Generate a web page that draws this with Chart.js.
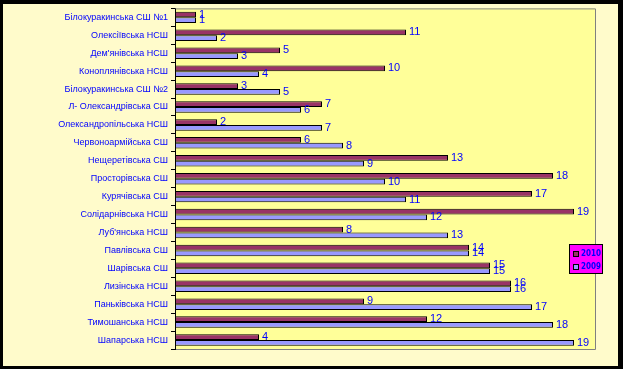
<!DOCTYPE html>
<html><head><meta charset="utf-8">
<script src="https://cdn.jsdelivr.net/npm/chart.js@4/dist/chart.umd.min.js"></script>
<style>html,body{margin:0;padding:0;background:#000;}#wrap{width:623px;height:369px;position:relative;}</style>
</head><body><div id="wrap"><canvas id="c" width="623" height="369"></canvas></div>
<script>
const categories = ["Білокуракинська СШ №1","Олексіївська НСШ","Дем'янівська НСШ","Коноплянівська НСШ","Білокуракинська СШ №2","Л- Олександрівська СШ","Олександропільська НСШ","Червоноармійська СШ","Нещеретівська СШ","Просторівська СШ","Курячівська СШ","Солідарнівська НСШ","Луб'янська НСШ","Павлівська СШ","Шарівська СШ","Лизінська НСШ","Паньківська НСШ","Тимошанська НСШ","Шапарська НСШ"];
const series2010 = [1,11,5,10,3,7,2,6,13,18,17,19,8,14,15,16,9,12,4];
const series2009 = [1,2,3,4,5,6,7,8,9,10,11,12,13,14,15,16,17,18,19];
const seriesNames = ["2010","2009"];

const bgPlugin = {
  id:'bg',
  beforeDraw(chart){
    const ctx=chart.ctx, a=chart.chartArea;
    ctx.save();
    ctx.fillStyle='#000'; ctx.fillRect(0,0,chart.width,chart.height);
    ctx.fillStyle='#FFFBCB'; ctx.fillRect(3,4,615,362);
    ctx.fillStyle='#FFFF99'; ctx.fillRect(a.left,a.top,a.right-a.left,a.bottom-a.top);
    ctx.strokeStyle='#808080'; ctx.lineWidth=1;
    ctx.beginPath();
    ctx.moveTo(a.left,a.top+0.5); ctx.lineTo(a.right+0.5,a.top+0.5); ctx.lineTo(a.right+0.5,a.bottom+0.5); ctx.lineTo(a.left,a.bottom+0.5);
    ctx.stroke();
    ctx.restore();
  },
  afterDraw(chart){
    const ctx=chart.ctx, a=chart.chartArea;
    ctx.save();
    ctx.strokeStyle='#000'; ctx.lineWidth=1;
    ctx.beginPath(); ctx.moveTo(a.left+0.5,a.top); ctx.lineTo(a.left+0.5,a.bottom+1); ctx.stroke();
    ctx.fillStyle='#0000FF'; ctx.font='11px "Liberation Sans", Arial, sans-serif';
    ctx.textBaseline='middle'; ctx.textAlign='left';
    chart.data.datasets.forEach((ds,i)=>{
      const meta=chart.getDatasetMeta(i);
      meta.data.forEach((bar,j)=>{
        ctx.fillText(String(ds.data[j]), bar.x+3, bar.y);
      });
    });
    const lx=569, ly=244, lw=33, lh=29;
    ctx.fillStyle='#FF00FF'; ctx.fillRect(lx,ly,lw,lh);
    ctx.strokeStyle='#000'; ctx.strokeRect(lx+0.5,ly+0.5,lw,lh);
    chart.data.datasets.forEach((ds,i)=>{
      const y=ly+7+i*13;
      ctx.fillStyle=ds.backgroundColor; ctx.fillRect(lx+4,y,5,5);
      ctx.strokeStyle='#000'; ctx.strokeRect(lx+4.5,y+0.5,5,5);
      ctx.fillStyle='#0000FF'; ctx.font='bold 8px "DejaVu Sans Condensed", "Liberation Sans", sans-serif';
      ctx.textBaseline='middle';
      ctx.fillText(seriesNames[i], lx+12, y+3);
    });
    ctx.restore();
  }
};

new Chart(document.getElementById('c'),{
  type:'bar',
  data:{
    labels:categories,
    datasets:[
      {label:seriesNames[0],data:series2010,backgroundColor:'#993366',borderColor:'#000',borderWidth:1,borderSkipped:false},
      {label:seriesNames[1],data:series2009,backgroundColor:'#9999FF',borderColor:'#000',borderWidth:1,borderSkipped:false}
    ]
  },
  options:{
    indexAxis:'y',
    responsive:false,
    animation:false,
    events:[],
    layout:{padding:{left:3,top:5,right:28,bottom:20}},
    datasets:{bar:{categoryPercentage:0.64,barPercentage:1}},
    plugins:{legend:{display:false},tooltip:{enabled:false}},
    scales:{
      x:{display:false,min:0,max:20},
      y:{
        afterFit(s){s.width=172;},
        border:{display:false},
        grid:{offset:true,drawOnChartArea:false,tickLength:4,color:'#000'},
        ticks:{color:'#0000FF',padding:3,font:{family:'"Liberation Sans", Arial, sans-serif',size:9},autoSkip:false}
      }
    }
  },
  plugins:[bgPlugin]
});
</script></body></html>
